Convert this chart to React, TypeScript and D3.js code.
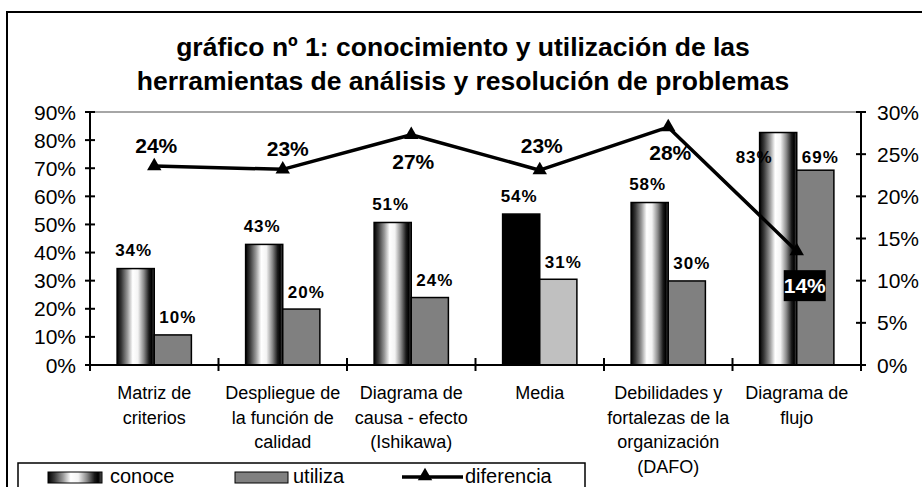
import * as d3 from "d3";
import React from "react";

// data
const categories = [
  ["Matriz de", "criterios"],
  ["Despliegue de", "la función de", "calidad"],
  ["Diagrama de", "causa - efecto", "(Ishikawa)"],
  ["Media"],
  ["Debilidades y", "fortalezas de la", "organización", "(DAFO)"],
  ["Diagrama de", "flujo"],
];
const conoce = [0.343, 0.429, 0.507, 0.537, 0.578, 0.827];
const utiliza = [0.107, 0.199, 0.24, 0.305, 0.299, 0.693];
const diferencia = [0.236, 0.232, 0.273, 0.231, 0.282, 0.135];
const conoceLabels = ["34%", "43%", "51%", "54%", "58%", "83%"];
const utilizaLabels = ["10%", "20%", "24%", "31%", "30%", "69%"];
const diferenciaLabels = ["24%", "23%", "27%", "23%", "28%", "14%"];
const leftTicks = [0, 0.1, 0.2, 0.3, 0.4, 0.5, 0.6, 0.7, 0.8, 0.9];
const rightTicks = [0, 0.05, 0.1, 0.15, 0.2, 0.25, 0.3];
const titleLines = [
  "gráfico nº 1: conocimiento y utilización de las",
  "herramientas de análisis y resolución de problemas",
];

const width = 922;
const height = 487;
const font = "Arial, 'Liberation Sans', sans-serif";

export default function App() {
  const plot = { left: 90, right: 861, top: 112, bottom: 365 };

  const x = d3
    .scaleBand<number>()
    .domain(d3.range(categories.length))
    .range([plot.left, plot.right]);
  const xSub = d3
    .scaleBand<string>()
    .domain(["conoce", "utiliza"])
    .range([0, x.bandwidth()])
    .paddingOuter(0.73);
  const yLeft = d3.scaleLinear().domain([0, 0.9]).range([plot.bottom, plot.top]);
  const yRight = d3.scaleLinear().domain([0, 0.3]).range([plot.bottom, plot.top]);
  const pct = d3.format(".0%");

  const line = d3
    .line<number>()
    .x((_, i) => x(i)! + x.bandwidth() / 2)
    .y((d) => yRight(d));

  const tri = d3.symbol(d3.symbolTriangle, 90)();
  const bw = xSub.bandwidth();

  // where the diferencia labels sit relative to their marker
  const diffOffset = [-20, -21, 27, -25, 25, 34];

  return (
    <div style={{ position: "absolute", left: 0, top: 0 }}>
      <svg width={width} height={height} style={{ display: "block", background: "#fff" }}>
        <defs>
          <linearGradient id="cyl" x1="0" x2="1" y1="0" y2="0">
            <stop offset="0" stopColor="#000" />
            <stop offset="0.12" stopColor="#3a3a3a" />
            <stop offset="0.28" stopColor="#9a9a9a" />
            <stop offset="0.42" stopColor="#fff" />
            <stop offset="0.56" stopColor="#f4f4f4" />
            <stop offset="0.72" stopColor="#8a8a8a" />
            <stop offset="0.86" stopColor="#1a1a1a" />
            <stop offset="0.93" stopColor="#000" />
            <stop offset="1" stopColor="#555" />
          </linearGradient>
        </defs>

        {/* outer frame */}
        <rect x={7} y={12} width={925} height={500} fill="none" stroke="#000" strokeWidth={2} />

        {/* title */}
        {titleLines.map((t, i) => (
          <text
            key={i}
            x={width / 2 + 2}
            y={47 + i * 34}
            textAnchor="middle"
            dominantBaseline="central"
            fontFamily={font}
            fontWeight="bold"
            fontSize={26.5}
          >
            {t}
          </text>
        ))}

        {/* top border of plot area */}
        <line x1={plot.left} x2={plot.right} y1={plot.top} y2={plot.top} stroke="#888" strokeWidth={1.5} />

        {/* bars */}
        {categories.map((_, i) => {
          const x0 = x(i)!;
          const xc = x0 + xSub("conoce")!;
          const xu = x0 + xSub("utiliza")!;
          const isMedia = i === 3;
          return (
            <g key={i}>
              <rect
                x={xc}
                y={yLeft(conoce[i])}
                width={bw}
                height={yLeft(0) - yLeft(conoce[i])}
                fill={isMedia ? "#000" : "url(#cyl)"}
                stroke="#000"
                strokeWidth={1.5}
              />
              <rect
                x={xu}
                y={yLeft(utiliza[i])}
                width={bw}
                height={yLeft(0) - yLeft(utiliza[i])}
                fill={isMedia ? "#c0c0c0" : "#808080"}
                stroke="#000"
                strokeWidth={1.5}
              />
            </g>
          );
        })}

        {/* bar labels */}
        {categories.map((_, i) => {
          const x0 = x(i)!;
          const xc = x0 + xSub("conoce")! + bw / 2;
          const xu = x0 + xSub("utiliza")! + bw / 2;
          let cy = yLeft(conoce[i]) - 18;
          let cx = xc - 2;
          if (cy < 157) {
            cy = 157;
            cx = xc - 24;
          }
          const uy = Math.max(yLeft(utiliza[i]) - 17, 157);
          return (
            <g key={i} fontFamily={font} fontWeight="bold" fontSize={17} letterSpacing={1}>
              <text x={cx} y={cy} textAnchor="middle" dominantBaseline="central">
                {conoceLabels[i]}
              </text>
              <text x={xu + 5} y={uy} textAnchor="middle" dominantBaseline="central">
                {utilizaLabels[i]}
              </text>
            </g>
          );
        })}

        {/* axes */}
        <g stroke="#000" strokeWidth={2}>
          <line x1={plot.left} x2={plot.left} y1={plot.top} y2={plot.bottom} />
          <line x1={plot.right} x2={plot.right} y1={plot.top} y2={plot.bottom} />
          <line x1={plot.left} x2={plot.right} y1={plot.bottom} y2={plot.bottom} />
          {leftTicks.map((t) => (
            <line key={"l" + t} x1={plot.left - 5} x2={plot.left + 5} y1={yLeft(t)} y2={yLeft(t)} />
          ))}
          {rightTicks.map((t) => (
            <line key={"r" + t} x1={plot.right - 5} x2={plot.right + 5} y1={yRight(t)} y2={yRight(t)} />
          ))}
          {d3.range(categories.length + 1).map((i) => {
            const xx = plot.left + i * x.step();
            return <line key={"c" + i} x1={xx} x2={xx} y1={plot.bottom - 7} y2={plot.bottom + 6} />;
          })}
        </g>
        <g fontFamily={font} fontSize={21}>
          {leftTicks.map((t) => (
            <text key={t} x={plot.left - 14} y={yLeft(t)} textAnchor="end" dominantBaseline="central">
              {pct(t)}
            </text>
          ))}
          {rightTicks.map((t) => (
            <text key={t} x={plot.right + 16} y={yRight(t)} dominantBaseline="central">
              {pct(t)}
            </text>
          ))}
        </g>

        {/* category labels */}
        <g fontFamily={font} fontSize={18} textAnchor="middle">
          {categories.map((lines, i) => (
            <text key={i} x={x(i)! + x.bandwidth() / 2} y={393} dominantBaseline="central">
              {lines.map((l, j) => (
                <tspan key={j} x={x(i)! + x.bandwidth() / 2} y={393 + j * 24.5}>
                  {l}
                </tspan>
              ))}
            </text>
          ))}
        </g>

        {/* diferencia line */}
        <path d={line(diferencia)!} fill="none" stroke="#000" strokeWidth={3.5} strokeLinejoin="round" />
        {diferencia.map((d, i) => (
          <path
            key={i}
            d={tri!}
            transform={`translate(${x(i)! + x.bandwidth() / 2},${yRight(d)})`}
            fill="#000"
          />
        ))}
        {diferencia.map((d, i) => {
          const cx = x(i)! + x.bandwidth() / 2 + (i === 1 ? 5 : i === 5 ? 8 : 2);
          const cy = yRight(d) + diffOffset[i];
          const boxed = i === 5;
          return (
            <g key={i}>
              {boxed && <rect x={cx - 21} y={cy - 15} width={42} height={31} fill="#000" />}
              <text
                x={cx}
                y={cy}
                textAnchor="middle"
                dominantBaseline="central"
                fontFamily={font}
                fontWeight="bold"
                fontSize={21}
                fill={boxed ? "#fff" : "#000"}
              >
                {diferenciaLabels[i]}
              </text>
            </g>
          );
        })}

        {/* legend */}
        <g fontFamily={font} fontSize={20}>
          <rect x={18} y={463} width={567} height={40} fill="#fff" stroke="#000" strokeWidth={1.5} />
          <rect x={48} y={472} width={54} height={11} fill="url(#cyl)" stroke="#000" strokeWidth={1} />
          <text x={110} y={476} dominantBaseline="central">conoce</text>
          <rect x={235} y={472} width={53} height={11} fill="#808080" stroke="#000" strokeWidth={1} />
          <text x={293} y={476} dominantBaseline="central">utiliza</text>
          <line x1={402} x2={463} y1={477} y2={477} stroke="#000" strokeWidth={3.5} />
          <path d={tri!} transform="translate(425,476)" fill="#000" />
          <text x={465} y={476} dominantBaseline="central">diferencia</text>
        </g>
      </svg>
    </div>
  );
}
